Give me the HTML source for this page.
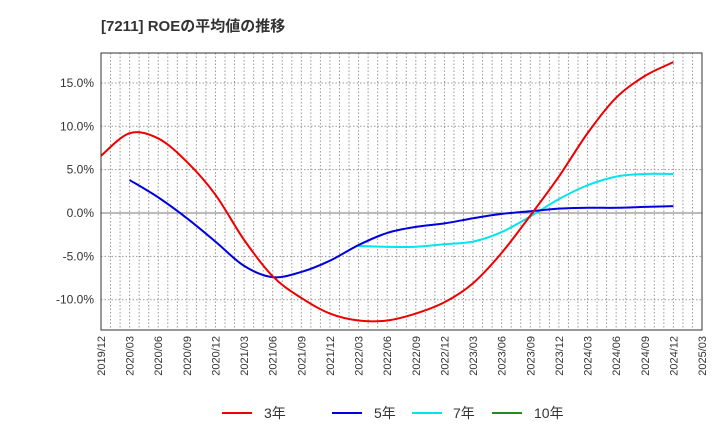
<!DOCTYPE html>
<html><head><meta charset="utf-8"><style>
body{margin:0;background:#fff;font-family:"Liberation Sans","Noto Sans CJK JP",sans-serif}
</style></head><body>
<svg id="c" width="720" height="440" xmlns="http://www.w3.org/2000/svg" style="font-family:'Liberation Sans','Noto Sans CJK JP',sans-serif">
<text x="101" y="31" font-size="15" font-weight="bold" fill="#333">[7211]  ROEの平均値の推移</text>
<g id="grid"></g><g id="series"></g><g id="axes"></g>
<g font-size="14" fill="#333">
<line x1="222" y1="413" x2="252" y2="413" stroke="#e00" stroke-width="2"/><text x="264" y="418">3年</text>
<line x1="332" y1="413" x2="362" y2="413" stroke="#0000dd" stroke-width="2"/><text x="374" y="418">5年</text>
<line x1="412" y1="413" x2="442" y2="413" stroke="#00e5ee" stroke-width="2"/><text x="453" y="418">7年</text>
<line x1="492" y1="413" x2="522" y2="413" stroke="#228b22" stroke-width="2"/><text x="534" y="418">10年</text>
</g>
</svg>
<script>
const xLabels=["2019/12","2020/03","2020/06","2020/09","2020/12","2021/03","2021/06","2021/09","2021/12","2022/03","2022/06","2022/09","2022/12","2023/03","2023/06","2023/09","2023/12","2024/03","2024/06","2024/09","2024/12","2025/03"];
const yTicks=[15,10,5,0,-5,-10];
const s3=[6.6,9.2,8.6,5.9,2.1,-3.1,-7.3,-9.8,-11.6,-12.4,-12.4,-11.6,-10.3,-8.1,-4.6,-0.3,4.2,9.2,13.3,15.8,17.4];
const s5=[null,3.8,1.8,-0.6,-3.3,-6.1,-7.4,-6.8,-5.5,-3.7,-2.3,-1.6,-1.2,-0.6,-0.1,0.2,0.5,0.6,0.6,0.7,0.8];
const s7=[null,null,null,null,null,null,null,null,null,-3.8,-3.9,-3.9,-3.6,-3.3,-2.2,-0.4,1.6,3.2,4.2,4.5,4.5];
const s10=[];
const L=101,R=702,T=53,B=330;
const xs=i=>L+(R-L)*i/21;
const ys=v=>213-v*8.67;
const NS="http://www.w3.org/2000/svg";
function mk(p,t,a){const e=document.createElementNS(NS,t);for(const k in a)e.setAttribute(k,a[k]);p.appendChild(e);return e;}
const g=document.getElementById('grid'),ax=document.getElementById('axes'),se=document.getElementById('series');
for(let m=1;m<63;m++){const x=L+(R-L)*m/63;
const l=mk(g,'line',{x1:x,y1:T,x2:x,y2:B,stroke:'#999','stroke-dasharray':'1.5,2','stroke-width':1});
}
yTicks.forEach(v=>{const y=ys(v);
const l=mk(g,'line',{x1:L,y1:y,x2:R,y2:y,stroke:v===0?'#777':'#999','stroke-dasharray':v===0?'none':'1.5,2','stroke-width':1});

const t=mk(ax,'text',{x:L-7,y:y+4,'text-anchor':'end','font-size':12,fill:'#333'});t.textContent=v.toFixed(1)+'%';
});
const fr=mk(ax,'rect',{x:L,y:T,width:R-L,height:B-T,fill:'none',stroke:'#333','stroke-width':1});

xLabels.forEach((s,i)=>{const x=xs(i);const t=mk(ax,'text',{transform:`translate(${x+4},${B+6}) rotate(-90)`,'text-anchor':'end','font-size':11,fill:'#333'});t.textContent=s;
});
function path(arr,color,name){const pts=[];arr.forEach((v,i)=>{if(v!==null&&v!==undefined)pts.push([xs(i),ys(v)]);});
if(pts.length<2)return;let d=`M${pts[0][0]},${pts[0][1]}`;
for(let i=0;i<pts.length-1;i++){const p0=pts[Math.max(0,i-1)],p1=pts[i],p2=pts[i+1],p3=pts[Math.min(pts.length-1,i+2)];
d+=` C${p1[0]+(p2[0]-p0[0])/6},${p1[1]+(p2[1]-p0[1])/6} ${p2[0]-(p3[0]-p1[0])/6},${p2[1]-(p3[1]-p1[1])/6} ${p2[0]},${p2[1]}`;}
const e=mk(se,'path',{d:d,fill:'none',stroke:color,'stroke-width':2});
}
path(s7,'#00e5ee','line-7y');path(s5,'#0000dd','line-5y');path(s3,'#e00','line-3y');path(s10,'#228b22','line-10y');
</script>
</body></html>
